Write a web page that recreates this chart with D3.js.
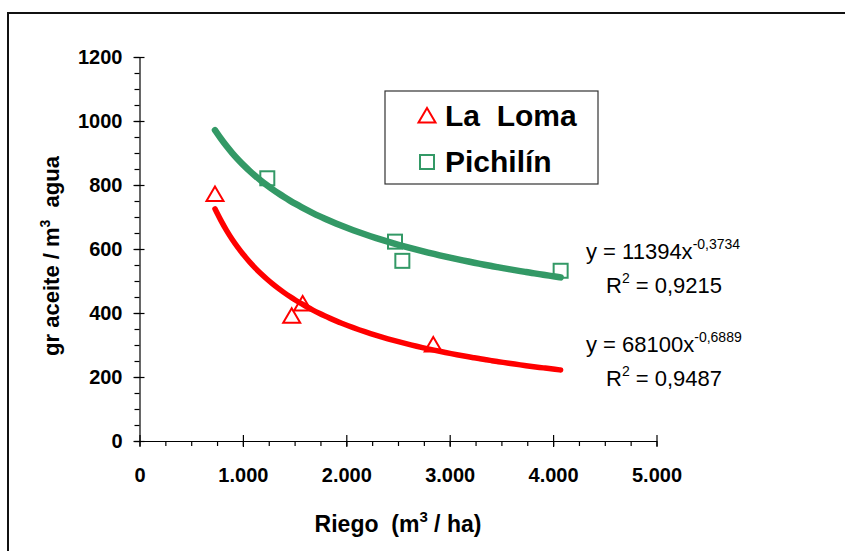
<!DOCTYPE html>
<html>
<head>
<meta charset="utf-8">
<script src="https://cdn.jsdelivr.net/npm/d3@7"></script>
<style>
  body { margin: 0; background: #fff; }
  svg { font-family: Arial, "Liberation Sans", sans-serif; }
  text { white-space: pre; }
</style>
</head>
<body>
<svg id="chart" width="845" height="551"></svg>
<script>
// La Loma (triangles)
const lomaRiego = [730, 1472, 1578, 2841];
const lomaValues = [770, 390, 428, 300];
// Pichilin (squares)
const pichRiego = [1236, 2471, 2542, 4073];
const pichValues = [821, 623, 563, 532];
// trendline coefficients y = a * x^b, as printed on the chart
const lomaFit = [68100, -0.6889];
const pichFit = [11394, -0.3734];
const lomaR2 = '0,9487';
const pichR2 = '0,9215';
const xTicks = [0, 1000, 2000, 3000, 4000, 5000];
const yTicks = [0, 200, 400, 600, 800, 1000, 1200];

const red = '#ff0000', green = '#339966';
const width = 845, height = 551;
const margins = { left: 139.5, right: 188.5, top: 57, bottom: 110 };

const vis = d3.select('#chart');

// chart frame
vis.append('rect')
  .attr('x', 8).attr('y', 13)
  .attr('width', width + 10).attr('height', height + 10)
  .attr('fill', 'none')
  .attr('stroke', '#111')
  .attr('stroke-width', 2);

const xScale = d3.scaleLinear()
  .domain([0, 5000])
  .range([margins.left, width - margins.right]);
const yScale = d3.scaleLinear()
  .domain([0, 1200])
  .range([height - margins.bottom, margins.top]);

const fmtX = v => d3.format(',')(v).replace(/,/g, '.');

// minor ticks
vis.append('g')
  .attr('transform', 'translate(0,' + yScale(0) + ')')
  .call(d3.axisBottom(xScale).tickValues(d3.range(0, 5001, 250)).tickSize(5).tickFormat('').tickSizeOuter(0))
  .call(g => g.select('.domain').remove());
vis.append('g')
  .attr('transform', 'translate(' + xScale(0) + ',0)')
  .call(d3.axisLeft(yScale).tickValues(d3.range(0, 1201, 50)).tickSize(5).tickFormat('').tickSizeOuter(0))
  .call(g => g.select('.domain').remove());

// x axis (major ticks cross the line)
const xAxis = vis.append('g')
  .attr('transform', 'translate(0,' + yScale(0) + ')')
  .call(d3.axisBottom(xScale).tickValues(xTicks).tickFormat(fmtX).tickSize(6).tickSizeOuter(0).tickPadding(21));
xAxis.selectAll('.tick line').attr('y1', -6);
xAxis.selectAll('text').attr('font-size', 20).attr('font-weight', 'bold').attr('fill', '#000');

const yAxis = vis.append('g')
  .attr('transform', 'translate(' + xScale(0) + ',0)')
  .call(d3.axisLeft(yScale).tickValues(yTicks).tickFormat(d3.format('d')).tickSize(6).tickSizeOuter(0).tickPadding(11));
yAxis.selectAll('.tick line').attr('x1', 5);
yAxis.selectAll('text').attr('font-size', 20).attr('font-weight', 'bold').attr('fill', '#000');

vis.selectAll('.domain, .tick line').attr('stroke', '#000').attr('stroke-width', 1.2);

// axis titles
const xt = vis.append('text')
  .attr('x', 398).attr('y', 532)
  .attr('text-anchor', 'middle')
  .attr('font-size', 23).attr('font-weight', 'bold');
xt.append('tspan').text('Riego  (m');
xt.append('tspan').attr('font-size', 15).attr('dy', -10).text('3');
xt.append('tspan').attr('dy', 10).text(' / ha)');

const yt = vis.append('text')
  .attr('transform', 'translate(59,256) rotate(-90)')
  .attr('text-anchor', 'middle')
  .attr('font-size', 22).attr('font-weight', 'bold');
yt.append('tspan').text('gr aceite / m');
yt.append('tspan').attr('font-size', 14).attr('dy', -9).text('3');
yt.append('tspan').attr('dy', 9).text('  agua');

// trendlines over the full data range
const allX = lomaRiego.concat(pichRiego);
const [x0, x1] = d3.extent(allX);
const xs = d3.range(0, 61).map(i => x0 + (x1 - x0) * i / 60);
const lineGen = d3.line().x(d => xScale(d[0])).y(d => yScale(d[1])).curve(d3.curveBasis);

vis.append('path')
  .attr('d', lineGen(xs.map(x => [x, pichFit[0] * Math.pow(x, pichFit[1])])))
  .attr('fill', 'none').attr('stroke', green).attr('stroke-width', 6.5).attr('stroke-linecap', 'round');
vis.append('path')
  .attr('d', lineGen(xs.map(x => [x, lomaFit[0] * Math.pow(x, lomaFit[1])])))
  .attr('fill', 'none').attr('stroke', red).attr('stroke-width', 5.5).attr('stroke-linecap', 'round');

// markers
const triPath = 'M0,-8L8.5,6.5L-8.5,6.5Z';
vis.append('g').selectAll('path')
  .data(lomaRiego.map((x, i) => [x, lomaValues[i]]))
  .join('path')
  .attr('d', triPath)
  .attr('transform', d => 'translate(' + xScale(d[0]) + ',' + yScale(d[1]) + ')')
  .attr('fill', 'none').attr('stroke', red).attr('stroke-width', 2);

vis.append('g').selectAll('rect')
  .data(pichRiego.map((x, i) => [x, pichValues[i]]))
  .join('rect')
  .attr('x', d => xScale(d[0]) - 7).attr('y', d => yScale(d[1]) - 7)
  .attr('width', 14).attr('height', 14)
  .attr('fill', 'none').attr('stroke', green).attr('stroke-width', 2);

// legend
const lg = vis.append('g');
lg.append('rect')
  .attr('x', 385).attr('y', 91).attr('width', 213).attr('height', 93)
  .attr('fill', '#fff').attr('stroke', '#333').attr('stroke-width', 1.2);
lg.append('path').attr('d', triPath).attr('transform', 'translate(427,116)')
  .attr('fill', 'none').attr('stroke', red).attr('stroke-width', 2);
lg.append('rect').attr('x', 420).attr('y', 155).attr('width', 14).attr('height', 14)
  .attr('fill', 'none').attr('stroke', green).attr('stroke-width', 2);
lg.append('text').attr('x', 445).attr('y', 126).attr('font-size', 30).attr('font-weight', 'bold')
  .text('La  Loma');
lg.append('text').attr('x', 445).attr('y', 172).attr('font-size', 30).attr('font-weight', 'bold')
  .text('Pichilín');

// equations
function equation(x, y, fit, r2) {
  const t = vis.append('text').attr('x', x).attr('y', y).attr('font-size', 22);
  t.append('tspan').text('y = ' + fit[0] + 'x');
  t.append('tspan').attr('font-size', 14).attr('dy', -10)
    .text(String(fit[1]).replace('.', ','));
  const r = vis.append('text').attr('x', x + 20).attr('y', y + 34).attr('font-size', 22);
  r.append('tspan').text('R');
  r.append('tspan').attr('font-size', 14).attr('dy', -10).text('2');
  r.append('tspan').attr('dy', 10).text(' = ' + r2);
}
equation(586, 259, pichFit, pichR2);
equation(586, 352, lomaFit, lomaR2);
</script>
</body>
</html>
